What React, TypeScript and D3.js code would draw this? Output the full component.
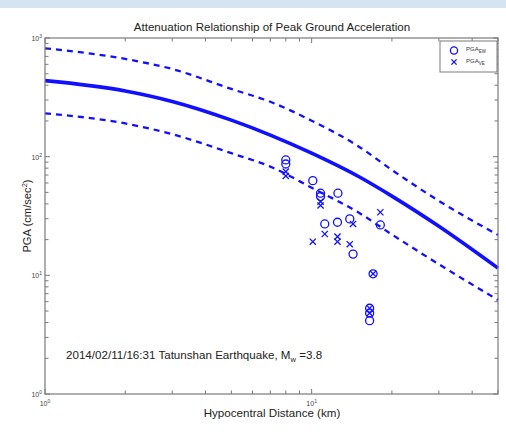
import React from "react";
import * as d3 from "d3";

const W = 506;
const H = 432;

// Attenuation curves (distance km, PGA cm/s^2)
const curveDist = [1, 2, 3, 5, 7, 10, 15, 20, 30, 50];
const medianPGA = [437, 358, 292, 203, 152, 107, 68, 46.5, 25.9, 11.5];
const upperPGA = [819, 666, 548, 372, 290, 201, 122, 77.3, 42.4, 21.9];
const lowerPGA = [232, 190.5, 154.7, 107, 82.4, 54.8, 33.8, 22.1, 12.4, 6.2];

// Observations
const obsEWDist = [8.0, 8.0, 10.1, 10.8, 10.8, 12.55, 11.2, 12.5, 13.9, 14.3, 18.1, 17.0, 16.5, 16.5, 16.5];
const obsEWPGA = [93.8, 86.7, 62.8, 49.2, 46.1, 49.2, 27.1, 28.0, 29.9, 15.1, 26.6, 10.3, 5.28, 4.8, 4.15];
const obsVEDist = [8.0, 8.0, 10.8, 10.8, 11.2, 10.1, 12.5, 12.5, 14.3, 13.9, 18.1, 17.0, 16.5, 16.5];
const obsVEPGA = [74.8, 68.8, 41.8, 38.8, 22.3, 19.2, 21.2, 19.2, 27.1, 18.3, 34.0, 10.3, 5.28, 4.8];

const xTickMajors = [1, 10];
const yTickMajors = [1, 10, 100, 1000];
const xExpLabels = ["0", "1"];
const yExpLabels = ["0", "1", "2", "3"];

const BLUE = "#1010ff";
const AXIS = "#7a7a7a";
const FONT = "'Liberation Sans', Arial, Helvetica, sans-serif";

export default function App() {
  const left = 45, right = 498, top = 38, bottom = 394;
  const x = d3.scaleLog().domain([1, 50]).range([left, right]);
  const y = d3.scaleLog().domain([1, 1000]).range([bottom, top]);

  const line = d3
    .line<[number, number]>()
    .x((d) => x(d[0]))
    .y((d) => y(d[1]))
    .curve(d3.curveMonotoneX);

  const mk = (vals: number[]) => curveDist.map((d, i) => [d, vals[i]] as [number, number]);

  const xTicks: { v: number; major: boolean }[] = [];
  for (let dec = 1; dec <= 10; dec *= 10) {
    for (let m = 1; m <= 9; m++) {
      const v = dec * m;
      if (v > 50) break;
      xTicks.push({ v, major: m === 1 });
    }
  }
  const yTicks: { v: number; major: boolean }[] = [];
  for (let dec = 1; dec <= 1000; dec *= 10) {
    for (let m = 1; m <= 9; m++) {
      const v = dec * m;
      if (v > 1000) break;
      yTicks.push({ v, major: m === 1 });
    }
  }

  const cross = (cx: number, cy: number, s: number, key: string) => (
    <g key={key} stroke={BLUE} strokeWidth={1.3}>
      <line x1={cx - s} y1={cy - s} x2={cx + s} y2={cy + s} />
      <line x1={cx - s} y1={cy + s} x2={cx + s} y2={cy - s} />
    </g>
  );

  return (
    <svg
      width={W}
      height={H}
      style={{ position: "absolute", left: 0, top: 0, background: "#fff" }}
      fontFamily={FONT}
    >
      <rect x={0} y={0} width={W} height={8} fill="#d6e4f2" />

      <text x={272} y={31} textAnchor="middle" fontSize={11.6} fill="#222">
        Attenuation Relationship of Peak Ground Acceleration
      </text>

      {/* curves */}
      <g fill="none" stroke={BLUE}>
        <path d={line(mk(upperPGA)) || ""} strokeWidth={2.3} strokeDasharray="6,5" />
        <path d={line(mk(lowerPGA)) || ""} strokeWidth={2.3} strokeDasharray="6,5" />
        <path d={line(mk(medianPGA)) || ""} strokeWidth={3.6} />
      </g>

      {/* observations */}
      <g fill="none" stroke={BLUE} strokeWidth={1.3}>
        {obsEWDist.map((d, i) => (
          <circle key={"c" + i} cx={x(d)} cy={y(obsEWPGA[i])} r={4} />
        ))}
      </g>
      {obsVEDist.map((d, i) => cross(x(d), y(obsVEPGA[i]), 3.1, "x" + i))}

      {/* frame */}
      <rect x={left} y={top} width={right - left} height={bottom - top} fill="none" stroke={AXIS} strokeWidth={1.2} />

      {/* ticks */}
      <g stroke={AXIS} strokeWidth={1}>
        {xTicks.map((t, i) => {
          const len = t.major ? 5 : 3.5;
          const px = x(t.v);
          return (
            <g key={"xt" + i}>
              <line x1={px} x2={px} y1={bottom} y2={bottom - len} />
              <line x1={px} x2={px} y1={top} y2={top + len} />
            </g>
          );
        })}
        {yTicks.map((t, i) => {
          const len = t.major ? 5 : 3.5;
          const py = y(t.v);
          return (
            <g key={"yt" + i}>
              <line x1={left} x2={left + len} y1={py} y2={py} />
              <line x1={right} x2={right - len} y1={py} y2={py} />
            </g>
          );
        })}
      </g>

      {/* tick labels */}
      <g fill="#444" fontSize={7}>
        {xTickMajors.map((v, i) => (
          <text key={"xl" + i} x={x(v)} y={bottom + 12} textAnchor="middle">
            10<tspan dy={-3} fontSize={5}>{xExpLabels[i]}</tspan>
          </text>
        ))}
        {yTickMajors.map((v, i) => (
          <text key={"yl" + i} x={left - 3} y={y(v) + 3} textAnchor="end">
            10<tspan dy={-3} fontSize={5}>{yExpLabels[i]}</tspan>
          </text>
        ))}
      </g>

      {/* axis labels */}
      <text x={272} y={417} textAnchor="middle" fontSize={11.6} fill="#222">
        Hypocentral Distance (km)
      </text>
      <text transform={`translate(31,${(top + bottom) / 2}) rotate(-90)`} textAnchor="middle" fontSize={11.2} fill="#222">
        PGA (cm/sec<tspan dy={-4} fontSize={7.5}>2</tspan>
        <tspan dy={4}>)</tspan>
      </text>

      {/* annotation */}
      <text x={66} y={359} fontSize={11.6} fill="#222">
        2014/02/11/16:31 Tatunshan Earthquake, M<tspan dy={3} fontSize={7.5}>w</tspan>
        <tspan dy={-3}> =3.8</tspan>
      </text>

      {/* legend */}
      <rect x={440} y={41} width={57} height={31} fill="#fff" stroke={AXIS} strokeWidth={1} />
      <circle cx={454} cy={50.5} r={3.6} fill="none" stroke={BLUE} strokeWidth={1.3} />
      {cross(454, 62, 2.6, "lx")}
      <g fill="#333" fontSize={6}>
        <text x={466} y={51}>
          PGA<tspan dy={2} fontSize={4.5}>EW</tspan>
        </text>
        <text x={466} y={63}>
          PGA<tspan dy={2} fontSize={4.5}>VE</tspan>
        </text>
      </g>
    </svg>
  );
}
